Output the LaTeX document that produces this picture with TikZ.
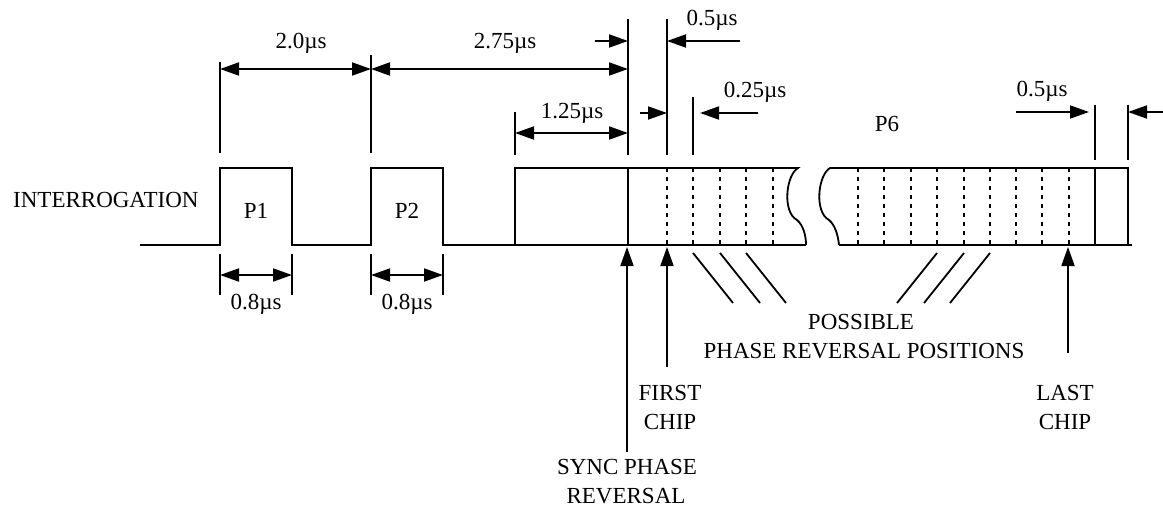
\documentclass[tikz,border=0pt]{standalone}
\usepackage{fontspec}
\setmainfont{Liberation Serif}
\usetikzlibrary{arrows.meta}
\begin{document}
\begin{tikzpicture}[x=1pt,y=-1pt,
  wave/.style={line width=1.8pt, line join=miter},
  ext/.style={line width=1.8pt},
  chipline/.style={line width=1.8pt, dash pattern=on 4pt off 5pt},
  tipline/.style={-{Triangle[length=19pt,width=13pt]}, line width=1.8pt},
  dimline/.style={{Triangle[length=19pt,width=13pt]}-{Triangle[length=19pt,width=13pt]}, line width=1.8pt},
  lbl/.style={font=\fontsize{23}{29}\selectfont, inner sep=0pt, anchor=base},
]
\useasboundingbox (0,0) rectangle (1163,514);

% ---- waveform ----
\draw[wave] (140,245) -- (220,245) -- (220,168) -- (292,168) -- (292,245)
  -- (371,245) -- (371,168) -- (443,168) -- (443,245) -- (806,245);
\draw[wave] (515,245) -- (515,168) -- (798,168)
  .. controls (786,175) and (782,212) .. (797,220)
  .. controls (803,225) and (806,235) .. (806,245);
\draw[wave] (839,245)
  .. controls (838,235) and (835,225) .. (829,220)
  .. controls (814,212) and (818,175) .. (830,168)
  -- (1128,168) -- (1128,245);
\draw[wave] (839,245) -- (1132,245);
\draw[wave] (628,168) -- (628,245);
\draw[wave] (1095,168) -- (1095,245);
\foreach \x in {667,693,720,746,773,858,884,911,937,964,990,1016,1042,1069}
  \draw[chipline] (\x,168) -- (\x,245);

% ---- extension lines ----
\draw[ext] (220,62) -- (220,153);
\draw[ext] (371,55) -- (371,153);
\draw[ext] (515,112) -- (515,155);
\draw[ext] (628,19) -- (628,155);
\draw[ext] (667,19) -- (667,155);
\draw[ext] (693,97) -- (693,155);
\draw[ext] (1095,105) -- (1095,160);
\draw[ext] (1128,105) -- (1128,160);
\draw[ext] (220,254) -- (220,295);
\draw[ext] (292,254) -- (292,295);
\draw[ext] (371,254) -- (371,295);
\draw[ext] (443,254) -- (443,295);

% ---- dimension coordinates ----
\coordinate (a1) at (220,69);  \coordinate (a2) at (371,69);  \coordinate (a3) at (628,69);
\coordinate (b1) at (220,275); \coordinate (b2) at (292,275);
\coordinate (c1) at (371,275); \coordinate (c2) at (443,275);
\coordinate (d1) at (515,133); \coordinate (d2) at (628,133);
\coordinate (e1) at (595,41);  \coordinate (e2) at (628,41);
\coordinate (f1) at (740,41);  \coordinate (f2) at (667,41);
\coordinate (g1) at (640,113); \coordinate (g2) at (667,113);
\coordinate (h1) at (758,113); \coordinate (h2) at (700,113);
\coordinate (i1) at (1016,112); \coordinate (i2) at (1089,112);
\coordinate (j1) at (1163,112); \coordinate (j2) at (1128,112);

\draw[dimline] (a1) -- (a2);
\draw[dimline] (a2) -- (a3);
\draw[dimline] (b1) -- (b2);
\draw[dimline] (c1) -- (c2);
\draw[dimline] (d1) -- (d2);
\draw[tipline] (e1) -- (e2);
\draw[tipline] (f1) -- (f2);
\draw[tipline] (g1) -- (g2);
\draw[tipline] (h1) -- (h2);
\draw[tipline] (i1) -- (i2);
\draw[tipline] (j1) -- (j2);

% ---- pointers below ----
\coordinate (s0) at (627,452); \coordinate (s1) at (627,247);
\coordinate (fc0) at (667,367); \coordinate (fc1) at (667,247);
\coordinate (lc0) at (1068,353); \coordinate (lc1) at (1068,247);
\draw[tipline] (s0) -- (s1);
\draw[tipline] (fc0) -- (fc1);
\draw[tipline] (lc0) -- (lc1);

\foreach \x in {693,720,746}
  \draw[ext] (\x,253) -- (\x+40,303);
\foreach \x in {937,964,990}
  \draw[ext] (\x,253) -- (\x-40,303);

% ---- labels ----
\node[lbl, anchor=base west] (tint) at (13,207) {INTERROGATION};
\node[lbl] (tp1) at (256,218) {P1};
\node[lbl] (tp2) at (407,218) {P2};
\node[lbl] (tw1) at (256,309) {0.8µs};
\node[lbl] (tw2) at (407,309) {0.8µs};
\node[lbl] (t20) at (301,48) {2.0µs};
\node[lbl] (t275) at (505,48) {2.75µs};
\node[lbl] (t05a) at (712,25) {0.5µs};
\node[lbl] (t025) at (755,97) {0.25µs};
\node[lbl] (t125) at (572,118) {1.25µs};
\node[lbl] (tp6) at (887,131) {P6};
\node[lbl] (t05b) at (1042,96) {0.5µs};
\node[lbl] (tpos1) at (861,329) {POSSIBLE};
\node[lbl] (tpos2) at (864,358) {PHASE REVERSAL POSITIONS};
\node[lbl] (tfc1) at (670,400) {FIRST};
\node[lbl] (tfc2) at (670,429) {CHIP};
\node[lbl] (tlc1) at (1065,400) {LAST};
\node[lbl] (tlc2) at (1065,429) {CHIP};
\node[lbl] (tsy1) at (627,474) {SYNC PHASE};
\node[lbl] (tsy2) at (626,503) {REVERSAL};
\end{tikzpicture}
\end{document}
